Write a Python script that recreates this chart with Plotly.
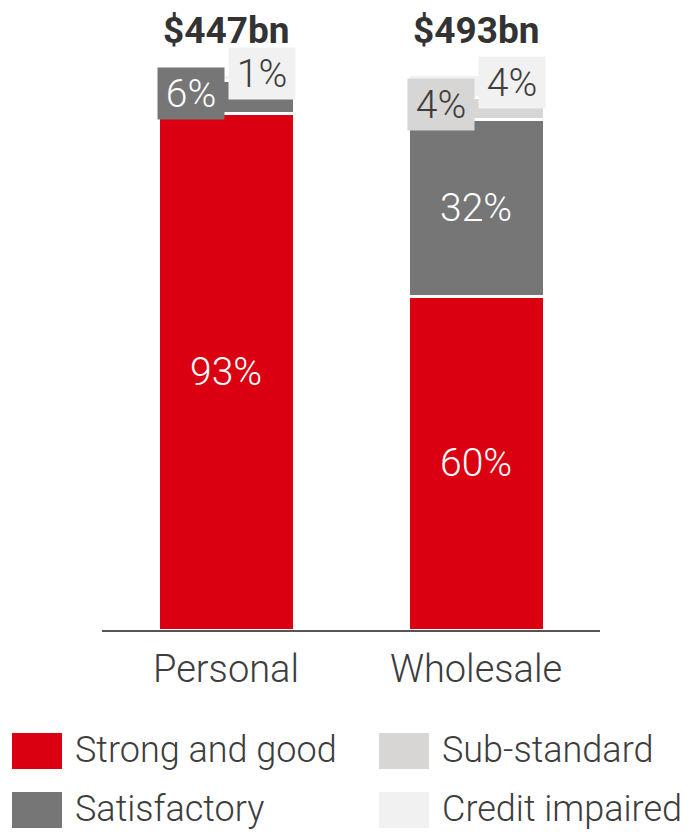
import plotly.graph_objects as go

# ---- data ----
categories = ["Personal", "Wholesale"]
totals = ["$447bn", "$493bn"]
series_names = ["Strong and good", "Satisfactory", "Sub-standard", "Credit impaired"]
strong_good = [93, 60]
satisfactory = [6, 32]
sub_standard = [0, 4]
credit_impaired = [1, 4]

# ---- style ----
colors = ["#db0011", "#767676", "#d7d6d4", "#f1f1f1"]
label_colors = ["#ffffff", "#ffffff", "#3d3d3d", "#3d3d3d"]
FONT = "Roboto"
OFF = 8  # page body margin offset
W, H = 698 - OFF, 832 - OFF
ML, MR, MT, MB = 102 - OFF, 98, 10 - OFF, 202
BAR_W = 0.544
YMAX = 111.7

series = [strong_good, satisfactory, sub_standard, credit_impaired]

fig = go.Figure()
for name, vals, col in zip(series_names, series, colors):
    fig.add_trace(go.Bar(
        x=categories, y=vals, name=name, width=BAR_W,
        marker=dict(color=col, line=dict(color="white", width=3)),
        showlegend=False, hoverinfo="skip",
    ))

annotations = []
for ci, cat in enumerate(categories):
    base = 0
    for si, vals in enumerate(series):
        v = vals[ci]
        if v == 0:
            continue
        mid = base + v / 2
        txt = f"{v}%"
        if v >= 10:
            annotations.append(dict(
                x=ci, y=mid, xref="x", yref="y", text=txt, showarrow=False,
                font=dict(family=FONT, size=39, color=label_colors[si], weight=300),
            ))
        else:
            side = -1 if si in (1, 2) else 1
            annotations.append(dict(
                x=ci + side * BAR_W / 4 + side * 0.006, y=mid, xref="x", yref="y",
                text=txt, showarrow=False, yshift=4,
                width=66, height=51, bgcolor=colors[si], borderpad=0,
                font=dict(family=FONT, size=39, color=label_colors[si], weight=300),
            ))
        base += v
    annotations.append(dict(
        x=ci, y=100, xref="x", yref="y", text=f"<b>{totals[ci]}</b>", showarrow=False,
        yshift=44, font=dict(family=FONT, size=37, color="#333333"),
    ))

# manual legend with large swatches, 2 x 2 grid (reference pixel coords)
plot_w = W - ML - MR
plot_h = H - MT - MB
def px_to_paper_x(px):
    return (px - OFF - ML) / plot_w
def px_to_paper_y(py):
    return (H - MB - (py - OFF)) / plot_h

shapes = []
leg_cols = [12, 379]
leg_rows = [733, 792]
order = [(0, 0), (1, 0), (0, 1), (1, 1)]
for (r, c), name, col in zip(order, series_names, colors):
    x0, y0 = leg_cols[c], leg_rows[r]
    shapes.append(dict(
        type="rect", xref="paper", yref="paper",
        x0=px_to_paper_x(x0), x1=px_to_paper_x(x0 + 50),
        y0=px_to_paper_y(y0 + 36), y1=px_to_paper_y(y0),
        fillcolor=col, line=dict(width=0), layer="above",
    ))
    annotations.append(dict(
        x=px_to_paper_x(x0 + 61), y=px_to_paper_y(y0 + 17), xref="paper", yref="paper",
        xanchor="left", yanchor="middle", text=name, showarrow=False,
        font=dict(family=FONT, size=36, color="#3d3d3d", weight=300),
    ))

fig.update_layout(
    barmode="stack",
    width=W, height=H,
    margin=dict(l=ML, r=MR, t=MT, b=MB),
    paper_bgcolor="white", plot_bgcolor="white",
    xaxis=dict(
        type="category", range=[-0.496, 1.496],
        showline=True, linecolor="#555555", linewidth=2,
        ticks="", showgrid=False, zeroline=False,
        tickfont=dict(family=FONT, size=38, color="#3d3d3d", weight=300),
        ticklabelstandoff=4,
    ),
    yaxis=dict(range=[0, YMAX], visible=False, showgrid=False, zeroline=False),
    annotations=annotations,
    shapes=shapes,
)

fig.write_html("out.html")
